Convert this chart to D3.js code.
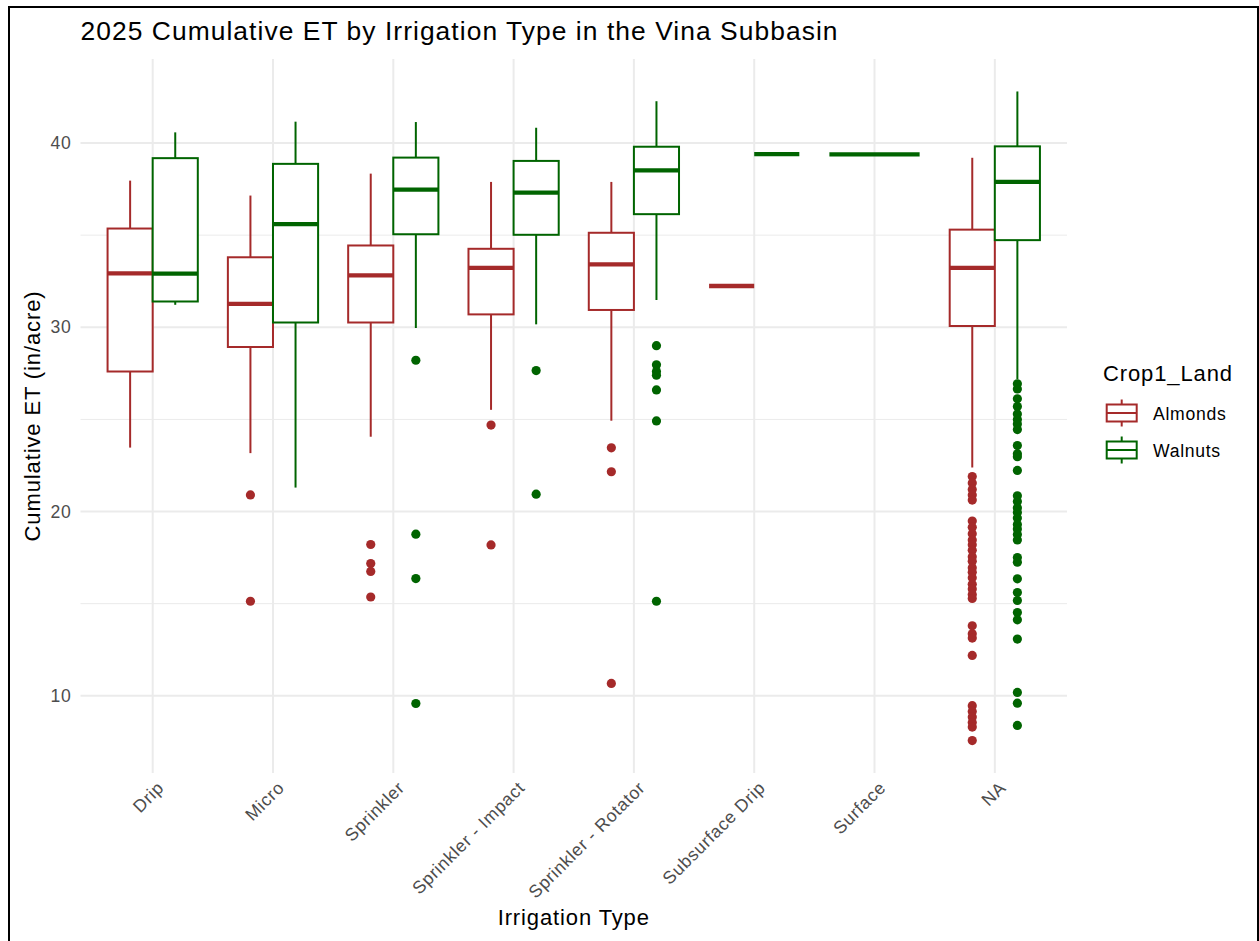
<!DOCTYPE html>
<html>
<head>
<meta charset="utf-8">
<script src="https://cdn.jsdelivr.net/npm/d3@7"></script>
<style>
  html, body { margin: 0; padding: 0; background: #fff; }
  svg text { font-family: "Liberation Sans", Arial, sans-serif; letter-spacing: 0.04em; }
</style>
</head>
<body>
<svg id="chart" width="1259" height="941"></svg>
<script>
// Irrigation categories on the x axis
const categories = ["Drip", "Micro", "Sprinkler", "Sprinkler - Impact", "Sprinkler - Rotator", "Subsurface Drip", "Surface", "NA"];
const groups = ["Almonds", "Walnuts"];
const groupColors = ["#A52A2A", "#006400"];
const yTicks = [10, 20, 30, 40];
const yMinorTicks = [15, 25, 35];

// Box summaries per category: [lower whisker, Q1, median, Q3, upper whisker]; null = no fields
const almondStats = [
  [23.47, 27.60, 32.93, 35.36, 37.96],
  [23.17, 28.93, 31.27, 33.80, 37.15],
  [24.06, 30.26, 32.82, 34.44, 38.34],
  [25.52, 30.70, 33.23, 34.26, 37.89],
  [24.93, 30.94, 33.41, 35.13, 37.89],
  [32.24, 32.24, 32.24, 32.24, 32.24],
  null,
  [22.39, 30.07, 33.23, 35.30, 39.20]
];
const walnutStats = [
  [31.22, 31.40, 32.91, 39.18, 40.58],
  [21.30, 30.26, 35.60, 38.87, 41.16],
  [29.96, 35.05, 37.47, 39.21, 41.14],
  [30.16, 35.02, 37.31, 39.03, 40.83],
  [31.48, 36.14, 38.52, 39.80, 42.27],
  [39.40, 39.40, 39.40, 39.40, 39.40],
  [39.39, 39.39, 39.39, 39.39, 39.39],
  [27.18, 34.73, 37.89, 39.82, 42.80]
];

// Outlying fields per category
const almondOutliers = [
  [],
  [20.9, 15.13],
  [18.21, 17.18, 16.75, 15.36],
  [24.69, 18.19],
  [23.46, 22.16, 10.67],
  [],
  [],
  [21.9, 21.55, 21.2, 20.9, 20.62, 19.48, 19.15, 18.8, 18.45, 18.2, 17.9, 17.55, 17.3, 16.95, 16.7, 16.4, 16.05, 15.8, 15.5, 15.28,
   13.8, 13.36, 13.13, 12.19, 9.46, 9.15, 8.85, 8.55, 8.3, 7.57]
];
const walnutOutliers = [
  [],
  [],
  [28.21, 18.77, 16.36, 9.58],
  [27.65, 20.94],
  [29.0, 27.96, 27.6, 27.4, 26.6, 24.92, 15.13],
  [],
  [],
  [26.93, 26.65, 26.12, 25.7, 25.3, 25.0, 24.75, 24.45, 23.58, 23.13, 22.98, 22.23,
   20.85, 20.55, 20.2, 19.95, 19.65, 19.3, 19.05, 18.75, 18.46, 17.5, 17.25, 16.35,
   15.6, 15.17, 14.52, 14.12, 13.08, 10.18, 9.6, 8.39]
];

const statsByGroup = [almondStats, walnutStats];
const outliersByGroup = [almondOutliers, walnutOutliers];

const svg = d3.select("#chart");
const panel = { left: 80.5, right: 1067, top: 59, bottom: 773 };

// y extent from all values, expanded 5% on both ends
const allVals = [];
statsByGroup.forEach(g => g.forEach(s => { if (s) allVals.push(...s); }));
outliersByGroup.forEach(g => g.forEach(o => allVals.push(...o)));
const lo = d3.min(allVals), hi = d3.max(allVals), pad = (hi - lo) * 0.05;

const y = d3.scaleLinear().domain([lo - pad, hi + pad]).range([panel.bottom, panel.top]);
const x = d3.scalePoint().domain(categories).range([panel.left, panel.right]).padding(0.6);
const step = x.step();

// frame around the figure
svg.append("rect")
  .attr("x", 9).attr("y", 7).attr("width", 1249).attr("height", 945)
  .attr("fill", "none").attr("stroke", "#000").attr("stroke-width", 2);

// grid
const grid = svg.append("g");
grid.selectAll(".minor").data(yMinorTicks).join("line")
  .attr("x1", panel.left).attr("x2", panel.right)
  .attr("y1", d => y(d)).attr("y2", d => y(d))
  .attr("stroke", "#EBEBEB").attr("stroke-width", 1);
grid.selectAll(".major").data(yTicks).join("line")
  .attr("x1", panel.left).attr("x2", panel.right)
  .attr("y1", d => y(d)).attr("y2", d => y(d))
  .attr("stroke", "#EBEBEB").attr("stroke-width", 2);
grid.selectAll(".vmajor").data(categories).join("line")
  .attr("x1", d => x(d)).attr("x2", d => x(d))
  .attr("y1", panel.top).attr("y2", panel.bottom)
  .attr("stroke", "#EBEBEB").attr("stroke-width", 2);

// boxes
const marks = svg.append("g");
categories.forEach((cat, ci) => {
  const present = groups.map((g, gi) => statsByGroup[gi][ci] !== null);
  const nPresent = present.filter(Boolean).length;
  groups.forEach((g, gi) => {
    const s = statsByGroup[gi][ci];
    if (!s) return;
    const color = groupColors[gi];
    let w, cx;
    if (nPresent === 2) { w = step * 0.375; cx = x(cat) + (gi === 0 ? -w / 2 : w / 2); }
    else { w = step * 0.75; cx = x(cat); }
    const [lw, q1, med, q3, uw] = s;
    const gEl = marks.append("g");
    // outliers
    gEl.selectAll("circle").data(outliersByGroup[gi][ci]).join("circle")
      .attr("cx", cx).attr("cy", d => y(d)).attr("r", 4.6).attr("fill", color);
    // whiskers
    gEl.append("line").attr("x1", cx).attr("x2", cx).attr("y1", y(uw)).attr("y2", y(q3))
      .attr("stroke", color).attr("stroke-width", 2);
    gEl.append("line").attr("x1", cx).attr("x2", cx).attr("y1", y(q1)).attr("y2", y(lw))
      .attr("stroke", color).attr("stroke-width", 2);
    // box
    gEl.append("rect").attr("x", cx - w / 2).attr("width", w)
      .attr("y", y(q3)).attr("height", Math.max(0, y(q1) - y(q3)))
      .attr("fill", "#fff").attr("stroke", color).attr("stroke-width", 2);
    // median
    gEl.append("line").attr("x1", cx - w / 2).attr("x2", cx + w / 2)
      .attr("y1", y(med)).attr("y2", y(med))
      .attr("stroke", color).attr("stroke-width", 4.3);
  });
});

// y axis labels
const yAxis = svg.append("g").attr("transform", `translate(${panel.left - 9},0)`)
  .call(d3.axisLeft(y).tickValues(yTicks).tickSize(0).tickPadding(0));
yAxis.select(".domain").remove();
yAxis.selectAll("text").attr("fill", "#4D4D4D").style("font-size", "17.6px")
  .attr("font-family", null);

// x axis labels, rotated 45 degrees
const xAxis = svg.append("g").attr("transform", `translate(0,${panel.bottom + 7})`)
  .call(d3.axisBottom(x).tickSize(0).tickPadding(0));
xAxis.select(".domain").remove();
xAxis.selectAll("text")
  .attr("fill", "#4D4D4D").style("font-size", "17.6px").attr("font-family", null)
  .attr("text-anchor", "end").attr("dy", "0.71em").attr("y", 0)
  .attr("transform", "translate(3,0) rotate(-45)");

// titles
svg.append("text").attr("x", panel.left).attr("y", 39.5)
  .style("font-size", "26.4px").attr("fill", "#000")
  .text("2025 Cumulative ET by Irrigation Type in the Vina Subbasin");
svg.append("text").attr("transform", `translate(40,${(panel.top + panel.bottom) / 2}) rotate(-90)`)
  .attr("text-anchor", "middle").style("font-size", "22px").attr("fill", "#000")
  .text("Cumulative ET (in/acre)");
svg.append("text").attr("x", (panel.left + panel.right) / 2).attr("y", 925)
  .attr("text-anchor", "middle").style("font-size", "22px").attr("fill", "#000")
  .text("Irrigation Type");

// legend
const legend = svg.append("g").attr("transform", "translate(1103,0)");
legend.append("text").attr("x", 0).attr("y", 381).style("font-size", "22px").attr("fill", "#000")
  .text("Crop1_Land");
const keyCx = 18.7, keyW = 30;
groups.forEach((g, gi) => {
  const cy = 413 + gi * 37;
  const color = groupColors[gi];
  const k = legend.append("g");
  k.append("line").attr("x1", keyCx).attr("x2", keyCx).attr("y1", cy - 13.5).attr("y2", cy + 13.5)
    .attr("stroke", color).attr("stroke-width", 2);
  k.append("rect").attr("x", keyCx - keyW / 2).attr("y", cy - 8.5).attr("width", keyW).attr("height", 17)
    .attr("fill", "#fff").attr("stroke", color).attr("stroke-width", 2);
  k.append("line").attr("x1", keyCx - keyW / 2).attr("x2", keyCx + keyW / 2).attr("y1", cy).attr("y2", cy)
    .attr("stroke", color).attr("stroke-width", 2);
  k.append("text").attr("x", 50).attr("y", cy + 6.5).style("font-size", "17.6px").attr("fill", "#000")
    .text(g);
});
</script>
</body>
</html>
